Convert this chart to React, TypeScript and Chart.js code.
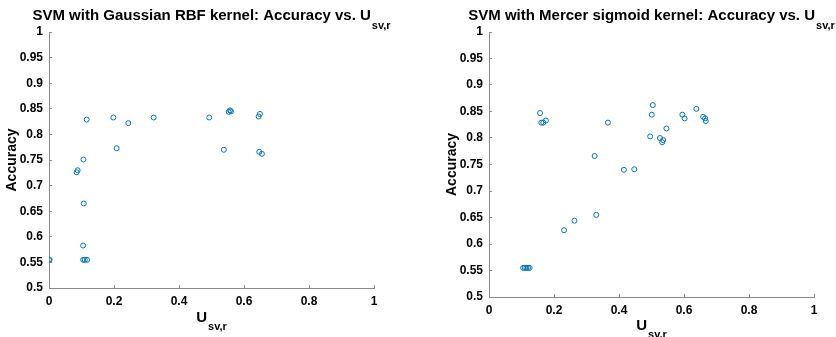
import React, { useEffect, useRef } from 'react';
import { Chart, registerables } from 'chart.js';

Chart.register(...registerables);

// ---- data ----
const rbfU = [0.0, 0.002, 0.116, 0.106, 0.085, 0.088, 0.107, 0.105, 0.105, 0.110, 0.117, 0.198, 0.244, 0.208, 0.322, 0.493, 0.553, 0.557, 0.560, 0.538, 0.645, 0.649, 0.647, 0.655];
const rbfAcc = [0.555, 0.555, 0.829, 0.751, 0.726, 0.730, 0.665, 0.583, 0.555, 0.555, 0.555, 0.833, 0.822, 0.773, 0.833, 0.833, 0.844, 0.847, 0.845, 0.770, 0.835, 0.840, 0.766, 0.762];

const sigU = [0.105, 0.110, 0.115, 0.120, 0.125, 0.157, 0.161, 0.167, 0.175, 0.231, 0.263, 0.325, 0.330, 0.366, 0.415, 0.447, 0.496, 0.501, 0.504, 0.526, 0.536, 0.533, 0.546, 0.595, 0.602, 0.638, 0.659, 0.665, 0.667];
const sigAcc = [0.555, 0.555, 0.555, 0.555, 0.555, 0.847, 0.829, 0.829, 0.833, 0.626, 0.644, 0.766, 0.655, 0.829, 0.740, 0.741, 0.803, 0.844, 0.862, 0.800, 0.796, 0.792, 0.818, 0.844, 0.837, 0.855, 0.840, 0.837, 0.832];

const xTicks = [0, 0.2, 0.4, 0.6, 0.8, 1];
const xTickLabels = ['0', '0.2', '0.4', '0.6', '0.8', '1'];
const yTicks = [0.5, 0.55, 0.6, 0.65, 0.7, 0.75, 0.8, 0.85, 0.9, 0.95, 1];
const yTickLabels = ['0.5', '0.55', '0.6', '0.65', '0.7', '0.75', '0.8', '0.85', '0.9', '0.95', '1'];

const titleTexts = ['SVM with Gaussian RBF kernel: Accuracy vs. U', 'SVM with Mercer sigmoid kernel: Accuracy vs. U'];
const subText = 'sv,r';
const yLabelText = 'Accuracy';
const xLabelText = 'U';

const FONT = "'Liberation Sans', Arial, Helvetica, sans-serif";
const W = 418;
const H = 337;

type Panel = {
  u: number[];
  acc: number[];
  title: string;
  left: number;
  areaLeft: number;
  areaRight: number;
  areaTop: number;
  areaBottom: number;
  yLabelX: number;
  xLabelBase: number;
};

const panels: Panel[] = [
  { u: rbfU, acc: rbfAcc, title: titleTexts[0], left: 0, areaLeft: 49, areaRight: 374, areaTop: 32, areaBottom: 288, yLabelX: 16, xLabelBase: 322 },
  { u: sigU, acc: sigAcc, title: titleTexts[1], left: 418, areaLeft: 71, areaRight: 396, areaTop: 32, areaBottom: 297, yLabelX: 38, xLabelBase: 330 },
];

function drawSub(ctx: CanvasRenderingContext2D, main: string, sub: string, cx: number, base: number, mainFont: string, subFont: string, drop: number) {
  ctx.font = mainFont;
  const wm = ctx.measureText(main).width;
  ctx.font = subFont;
  const ws = ctx.measureText(sub).width;
  const x0 = cx - (wm + 1 + ws) / 2;
  ctx.textAlign = 'left';
  ctx.textBaseline = 'alphabetic';
  ctx.font = mainFont;
  ctx.fillText(main, x0, base);
  ctx.font = subFont;
  ctx.fillText(sub, x0 + wm + 1, base + drop);
}

const PanelChart: React.FC<{ p: Panel }> = ({ p }) => {
  const ref = useRef<HTMLCanvasElement | null>(null);
  useEffect(() => {
    if (!ref.current) return;
    const labelPlugin = {
      id: 'labels',
      afterDraw(chart: any) {
        const ctx: CanvasRenderingContext2D = chart.ctx;
        const a = chart.chartArea;
        const cx = (a.left + a.right) / 2;
        ctx.save();
        ctx.fillStyle = '#000';
        drawSub(ctx, p.title, subText, cx, 20, `bold 15px ${FONT}`, `bold 11px ${FONT}`, 9);
        drawSub(ctx, xLabelText, subText, cx, p.xLabelBase, `bold 15px ${FONT}`, `bold 11px ${FONT}`, 8);
        ctx.translate(p.yLabelX, (a.top + a.bottom) / 2);
        ctx.rotate(-Math.PI / 2);
        ctx.font = `bold 14px ${FONT}`;
        ctx.textAlign = 'center';
        ctx.textBaseline = 'alphabetic';
        ctx.fillText(yLabelText, 0, 0);
        ctx.restore();
      },
    };
    const axisColor = '#8a8a8a';
    const chart = new Chart(ref.current, {
      type: 'scatter',
      data: {
        datasets: [
          {
            data: p.u.map((x, i) => ({ x, y: p.acc[i] })),
            pointStyle: 'circle',
            pointRadius: 2.5,
            pointHoverRadius: 2.5,
            borderWidth: 1,
            borderColor: '#0072BD',
            backgroundColor: 'rgba(0,0,0,0)',
            showLine: false,
          },
        ],
      },
      options: {
        responsive: false,
        animation: false,
        devicePixelRatio: 1,
        layout: { padding: { left: 0, top: p.areaTop, right: W - p.areaRight, bottom: 0 } },
        plugins: { legend: { display: false }, tooltip: { enabled: false }, title: { display: false } },
        events: [],
        scales: {
          x: {
            type: 'linear',
            min: 0,
            max: 1,
            afterBuildTicks: (s: any) => { s.ticks = xTicks.map((v) => ({ value: v })); },
            afterFit: (s: any) => { s.height = H - p.areaBottom; },
            ticks: {
              autoSkip: false,
              maxRotation: 0,
              padding: 9,
              color: '#000',
              font: { family: FONT, size: 12, weight: 'bold' },
              callback: (v: any) => xTickLabels[xTicks.findIndex((t) => Math.abs(t - Number(v)) < 1e-9)],
            },
            grid: { drawOnChartArea: false, drawTicks: true, tickLength: -3, color: axisColor, lineWidth: 1 },
            border: { display: true, color: axisColor, width: 1 },
          },
          y: {
            type: 'linear',
            min: 0.5,
            max: 1,
            afterBuildTicks: (s: any) => { s.ticks = yTicks.map((v) => ({ value: v })); },
            afterFit: (s: any) => { s.width = p.areaLeft; },
            ticks: {
              autoSkip: false,
              padding: 9,
              color: '#000',
              font: { family: FONT, size: 12, weight: 'bold' },
              callback: (v: any) => yTickLabels[yTicks.findIndex((t) => Math.abs(t - Number(v)) < 1e-9)],
            },
            grid: { drawOnChartArea: false, drawTicks: true, tickLength: -3, color: axisColor, lineWidth: 1 },
            border: { display: true, color: axisColor, width: 1 },
          },
        },
      } as any,
      plugins: [labelPlugin],
    });
    return () => chart.destroy();
  }, [p]);
  return (
    <div style={{ position: 'absolute', left: p.left, top: 0, width: W, height: H }}>
      <canvas ref={ref} width={W} height={H} style={{ display: 'block', width: W, height: H }} />
    </div>
  );
};

export default function App() {
  return (
    <div style={{ position: 'fixed', left: 0, top: 0, width: 836, height: 337, background: '#fff', overflow: 'hidden' }}>
      {panels.map((p, i) => (
        <PanelChart key={i} p={p} />
      ))}
    </div>
  );
}
